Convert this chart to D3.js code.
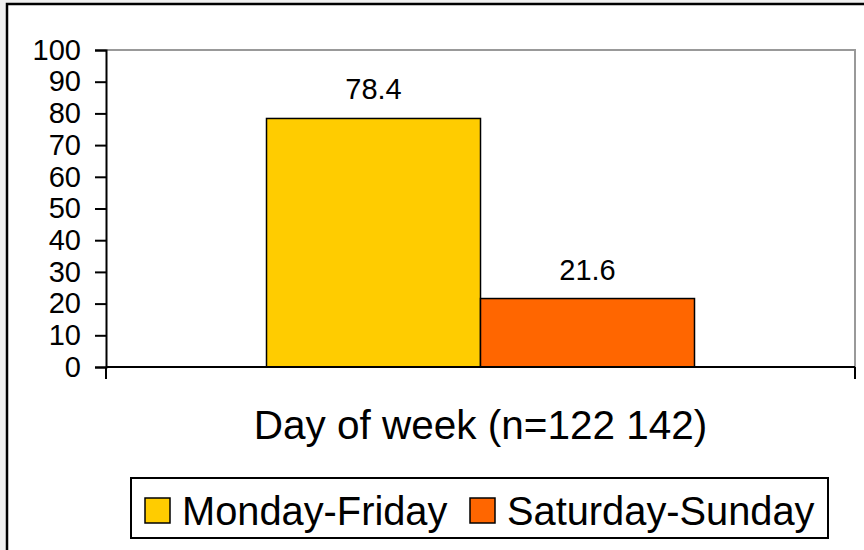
<!DOCTYPE html>
<html>
<head>
<meta charset="utf-8">
<script src="https://cdn.jsdelivr.net/npm/d3@7"></script>
<style>
  body { margin: 0; background: #f0f0f0; }
  svg { display: block; font-family: "Liberation Sans", Arial, sans-serif; }
</style>
</head>
<body>
<svg width="864" height="550"></svg>
<script>
// chart data
const categories = ["Day of week (n=122 142)"];
const seriesNames = ["Monday-Friday", "Saturday-Sunday"];
const seriesValues = [78.4, 21.6];
const seriesColors = ["#ffcc00", "#ff6600"];
const yTicks = [0, 10, 20, 30, 40, 50, 60, 70, 80, 90, 100];

const svg = d3.select("svg");

// plot area, hard-coded to match the picture
const plot = { left: 106, right: 855, top: 50, bottom: 367 };

// outer chart frame (runs past the right and bottom edge)
svg.append("rect")
  .attr("x", 7).attr("y", 4)
  .attr("width", 880).attr("height", 580)
  .attr("fill", "#fff")
  .attr("stroke", "#000")
  .attr("stroke-width", 2.5);

const x = d3.scaleBand()
  .domain(categories)
  .range([plot.left, plot.right]);

// excel style gap width of 150%
const xInner = d3.scaleBand()
  .domain(seriesNames)
  .range([0, x.bandwidth()])
  .paddingInner(0)
  .paddingOuter(0.75);

const y = d3.scaleLinear()
  .domain([0, 100])
  .range([plot.bottom, plot.top]);

// gray frame on top and right of the plot area
svg.append("path")
  .attr("d", `M${plot.left},${plot.top}H${plot.right}V${plot.bottom}`)
  .attr("fill", "none")
  .attr("stroke", "#999")
  .attr("stroke-width", 2);

// bars
const bars = seriesNames.map((name, i) => ({ name: name, value: seriesValues[i], color: seriesColors[i] }));

svg.append("g")
  .selectAll("rect")
  .data(bars)
  .join("rect")
  .attr("x", d => x(categories[0]) + xInner(d.name))
  .attr("y", d => y(d.value))
  .attr("width", xInner.bandwidth())
  .attr("height", d => y(0) - y(d.value))
  .attr("fill", d => d.color)
  .attr("stroke", "#000")
  .attr("stroke-width", 1.5);

// value labels
svg.append("g")
  .selectAll("text")
  .data(bars)
  .join("text")
  .attr("x", d => x(categories[0]) + xInner(d.name) + xInner.bandwidth() / 2)
  .attr("y", d => y(d.value) - 19)
  .attr("text-anchor", "middle")
  .attr("font-size", 29)
  .text(d => d.value.toFixed(1));

// y axis
const yAxis = svg.append("g")
  .attr("transform", `translate(${plot.left},0)`)
  .call(d3.axisLeft(y).tickValues(yTicks).tickSize(11).tickPadding(14));
yAxis.select(".domain").attr("stroke", "#000").attr("stroke-width", 2);
yAxis.selectAll(".tick line").attr("stroke", "#000").attr("stroke-width", 2);
yAxis.selectAll(".tick text")
  .attr("font-size", 29)
  .attr("font-family", "Liberation Sans, Arial, sans-serif")
  .attr("fill", "#000");

// x axis with category boundary ticks
const xAxis = svg.append("g")
  .attr("transform", `translate(0,${plot.bottom})`);
xAxis.append("line")
  .attr("x1", plot.left).attr("x2", plot.right)
  .attr("stroke", "#000").attr("stroke-width", 2);
xAxis.selectAll("line.tick")
  .data([x.range()[0], x.range()[1]])
  .join("line")
  .attr("class", "tick")
  .attr("x1", d => d).attr("x2", d => d)
  .attr("y1", 0).attr("y2", 12)
  .attr("stroke", "#000").attr("stroke-width", 2);

// category label
svg.append("text")
  .attr("x", x(categories[0]) + x.bandwidth() / 2)
  .attr("y", 439)
  .attr("text-anchor", "middle")
  .attr("font-size", 40.5)
  .text(categories[0]);

// legend
const legend = svg.append("g");
legend.append("rect")
  .attr("x", 131).attr("y", 478)
  .attr("width", 697).attr("height", 60)
  .attr("fill", "#fff")
  .attr("stroke", "#000")
  .attr("stroke-width", 2);

const legendX = [145, 470];
const items = legend.selectAll("g.item")
  .data(bars)
  .join("g")
  .attr("class", "item")
  .attr("transform", (d, i) => `translate(${legendX[i]},498)`);
items.append("rect")
  .attr("width", 25).attr("height", 25)
  .attr("fill", d => d.color)
  .attr("stroke", "#000")
  .attr("stroke-width", 1.5);
items.append("text")
  .attr("x", 37)
  .attr("y", 27)
  .attr("font-size", 39.8)
  .text(d => d.name);
</script>
</body>
</html>
